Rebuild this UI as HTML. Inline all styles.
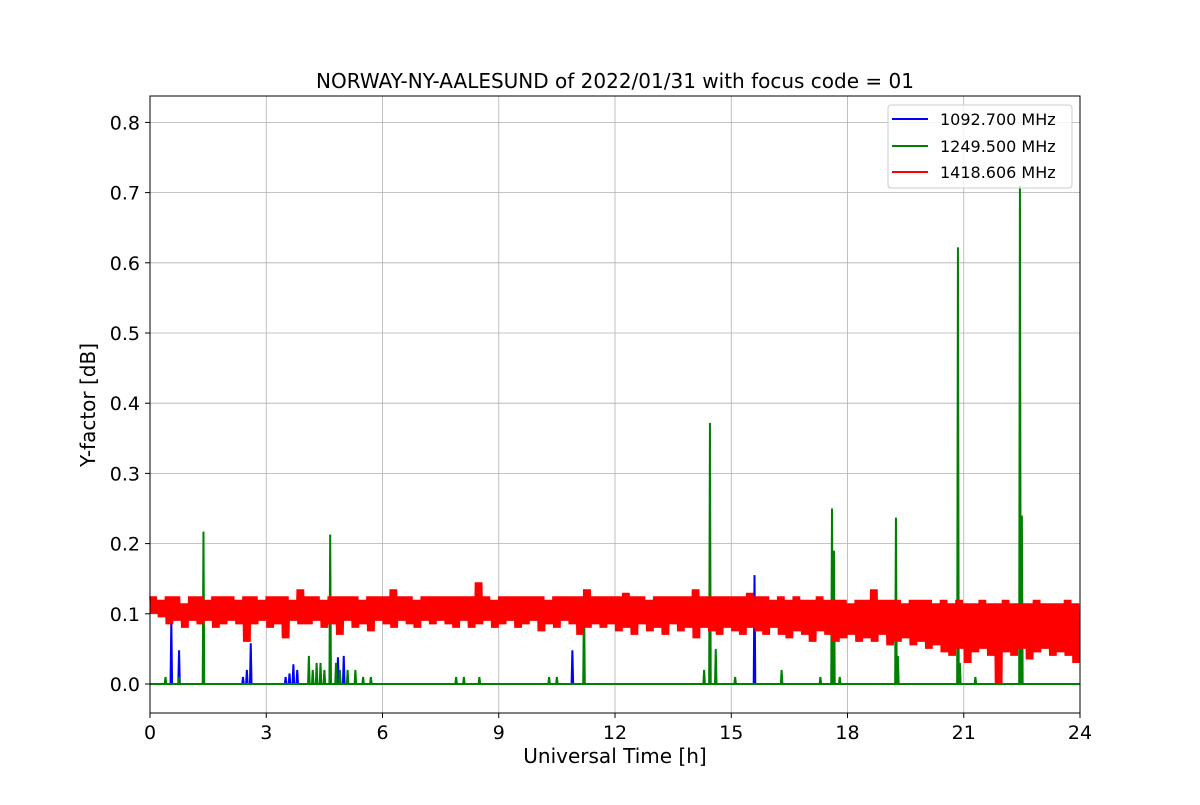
<!DOCTYPE html>
<html><head><meta charset="utf-8">
<style>
body{margin:0;background:#fff;}
svg text{font-family:"DejaVu Sans","Liberation Sans",sans-serif;}
</style></head>
<body>
<svg id="chart" width="1200" height="800" xmlns="http://www.w3.org/2000/svg">
<rect width="1200" height="800" fill="#fff"/>
<g id="grid"></g>
<g id="series"></g>
<rect x="150" y="96" width="930" height="617" fill="none" stroke="#000" stroke-width="1"/>
<g id="ticks"></g>
<text x="615" y="88" text-anchor="middle" font-size="20">NORWAY-NY-AALESUND of 2022/01/31 with focus code = 01</text>
<text x="615" y="763" text-anchor="middle" font-size="20">Universal Time [h]</text>
<text transform="translate(95,405) rotate(-90)" text-anchor="middle" font-size="20">Y-factor [dB]</text>
<g>
<rect x="888" y="105" width="184" height="83" rx="3" fill="#fff" fill-opacity="0.8" stroke="#ccc"/>
<g><line x1="892" x2="928" y1="119" y2="119" stroke="#0000ff" stroke-width="2"/><text x="940" y="125" font-size="16">1092.700 MHz</text></g>
<g><line x1="892" x2="928" y1="146" y2="146" stroke="#008000" stroke-width="2"/><text x="940" y="152" font-size="16">1249.500 MHz</text></g>
<g><line x1="892" x2="928" y1="172" y2="172" stroke="#ff0000" stroke-width="2"/><text x="940" y="178" font-size="16">1418.606 MHz</text></g>
</g>
</svg>
<script>
const xTicks=[0,3,6,9,12,15,18,21,24];
const yTicks=[0.0,0.1,0.2,0.3,0.4,0.5,0.6,0.7,0.8];
const yTickLabels=["0.0","0.1","0.2","0.3","0.4","0.5","0.6","0.7","0.8"];
const greenSpikeTimes=[0.4,0.75,1.38,4.1,4.2,4.3,4.4,4.5,4.65,4.8,4.9,5.1,5.3,5.5,5.7,7.9,8.1,8.5,10.3,10.5,11.2,14.3,14.45,14.6,15.1,16.3,17.3,17.6,17.65,17.8,19.25,19.3,20.85,20.9,21.3,22.45,22.5];
const greenSpikeValues=[0.01,0.01,0.217,0.04,0.02,0.03,0.03,0.02,0.213,0.03,0.02,0.02,0.02,0.01,0.01,0.01,0.01,0.01,0.01,0.01,0.135,0.02,0.372,0.05,0.01,0.02,0.01,0.25,0.19,0.01,0.237,0.04,0.622,0.03,0.01,0.71,0.24];
const blueSpikeTimes=[0.55,0.75,2.4,2.5,2.6,3.5,3.6,3.7,3.8,4.85,5.0,10.9,15.6];
const blueSpikeValues=[0.09,0.048,0.01,0.02,0.058,0.01,0.015,0.028,0.02,0.038,0.04,0.048,0.155];
const redHi=[.125,.12,.125,.125,.115,.125,.125,.12,.125,.125,.125,.12,.125,.125,.12,.125,.125,.125,.12,.135,
.125,.125,.12,.125,.125,.125,.125,.12,.125,.125,.125,.135,.125,.125,.12,.125,.125,.125,.125,.125,
.125,.125,.145,.125,.12,.125,.125,.125,.125,.125,.125,.12,.125,.125,.125,.125,.135,.125,.125,.125,
.125,.13,.125,.125,.12,.125,.125,.125,.125,.125,.135,.125,.125,.125,.125,.125,.125,.13,.125,.125,
.12,.125,.12,.125,.12,.12,.125,.12,.12,.12,.115,.12,.12,.135,.12,.12,.12,.115,.12,.12,
.12,.115,.12,.115,.12,.115,.115,.12,.115,.115,.12,.115,.115,.115,.12,.115,.115,.115,.12,.115];
const redLo=[.1,.095,.085,.09,.08,.09,.085,.09,.08,.085,.09,.085,.06,.085,.09,.08,.085,.065,.09,.085,
.085,.09,.08,.085,.07,.09,.08,.085,.075,.09,.085,.08,.09,.085,.08,.09,.085,.09,.085,.08,
.09,.08,.085,.09,.08,.085,.09,.08,.085,.09,.075,.085,.08,.09,.085,.07,.08,.085,.08,.085,
.075,.08,.07,.085,.075,.08,.07,.085,.075,.08,.065,.08,.075,.07,.08,.075,.07,.08,.075,.07,
.08,.07,.065,.075,.07,.06,.075,.07,.06,.065,.07,.06,.065,.06,.07,.055,.06,.065,.055,.06,
.05,.055,.045,.04,.05,.03,.045,.05,.04,.0,.045,.04,.05,.035,.045,.05,.04,.045,.04,.03];
const NS="http://www.w3.org/2000/svg";
const X=t=>150+t*(930/24);
const Y=v=>684-v*702;
function mk(tag,attrs,parent){const e=document.createElementNS(NS,tag);for(const k in attrs)e.setAttribute(k,attrs[k]);parent.appendChild(e);return e;}
const grid=document.getElementById('grid'),ticks=document.getElementById('ticks'),series=document.getElementById('series');
xTicks.forEach(t=>{
 const g=mk('line',{x1:X(t),x2:X(t),y1:96,y2:713,stroke:'#b0b0b0','stroke-width':0.8},grid);
 
 
 mk('line',{x1:X(t),x2:X(t),y1:713,y2:718,stroke:'#000'},ticks);
 const tx=mk('text',{x:X(t),y:739,'text-anchor':'middle','font-size':19},ticks);tx.textContent=t;
 
 
});
yTicks.forEach((v,i)=>{
 const g=mk('line',{x1:150,x2:1080,y1:Y(v),y2:Y(v),stroke:'#b0b0b0','stroke-width':0.8},grid);
 
 
 mk('line',{x1:145,x2:150,y1:Y(v),y2:Y(v),stroke:'#000'},ticks);
 const tx=mk('text',{x:140,y:Y(v)+7,'text-anchor':'end','font-size':19},ticks);tx.textContent=yTickLabels[i];
 
 
});
function spikePath(times,vals){
 let d='M'+X(0)+','+Y(0);
 times.forEach((t,i)=>{d+=' L'+X(t-0.02)+','+Y(0)+' L'+X(t)+','+Y(vals[i])+' L'+X(t+0.02)+','+Y(0);});
 d+=' L'+X(24)+','+Y(0);return d;
}
const b=mk('path',{d:spikePath(blueSpikeTimes,blueSpikeValues),fill:'none',stroke:'#0000ff','stroke-width':2},series);


const g=mk('path',{d:spikePath(greenSpikeTimes,greenSpikeValues),fill:'none',stroke:'#008000','stroke-width':2},series);


let d='';
const step=24/redHi.length, sub=5;
redHi.forEach((h,i)=>{
 for(let k=0;k<sub;k++){
  const t=i*step+k*step/sub;
  d+=(d?' L':'M')+X(t)+','+Y(h)+' L'+X(t+step/sub/2)+','+Y(redLo[i]);
 }
});
const r=mk('path',{d:d,fill:'none',stroke:'#ff0000','stroke-width':1.6,'stroke-linejoin':'bevel'},series);


</script>
</body></html>
